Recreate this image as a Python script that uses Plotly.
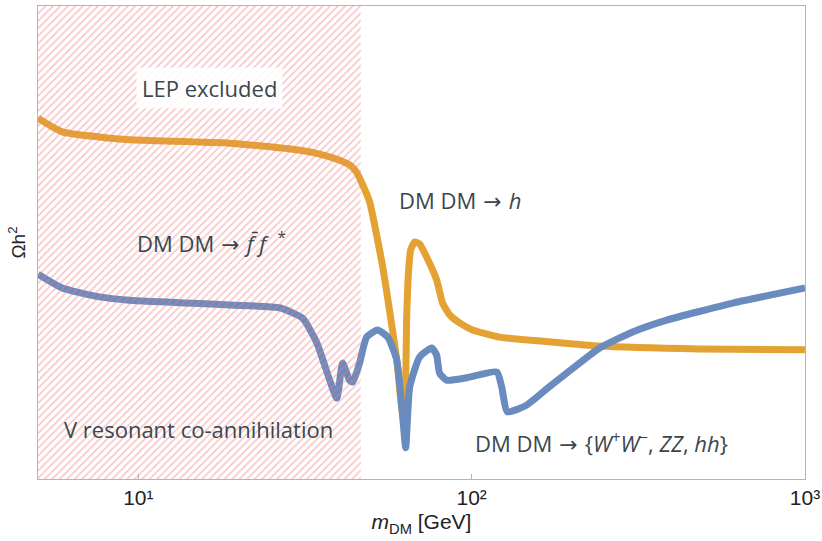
import math
import plotly.graph_objects as go

# ---- data (y in arbitrary units of the hidden axis) ----
m_orange = [5.0, 5.91, 7.64, 9.4, 18.8, 29.8, 35.0, 40.2, 43.0, 45.1, 47.1, 49.4, 54.1,
            59.6, 61.2, 62.5, 63.4, 63.8, 64.7, 65.6, 67.5, 69.8, 73.3, 78.5, 81.8,
            85.9, 92.0, 100.7, 121, 171, 242, 484, 1000]
omega_orange = [7.63, 7.34, 7.23, 7.17, 7.10, 6.96, 6.87, 6.74, 6.64, 6.49, 6.22, 5.86, 4.48,
                2.52, 1.70, 1.25, 2.09, 3.36, 4.42, 4.84, 5.01, 4.97, 4.69, 4.21, 3.72,
                3.47, 3.30, 3.15, 3.00, 2.90, 2.81, 2.75, 2.73]

m_blue = [5.0, 5.91, 7.64, 9.4, 18.8, 26.5, 31.1, 34.3, 37.5, 39.4, 41.0, 43.0, 44.0,
          46.1, 48.4, 52.2, 56.0, 59.6, 62.1, 63.4, 65.2, 69.8, 75.9, 78.5, 80.1, 84.1,
          96.6, 119, 123, 128, 146, 171, 193, 242, 304, 385, 608, 1000]
omega_blue = [4.33, 4.04, 3.85, 3.78, 3.68, 3.62, 3.40, 2.88, 2.09, 1.71, 2.45, 2.09, 2.05,
              2.45, 3.00, 3.15, 3.00, 2.52, 1.31, 0.66, 1.95, 2.58, 2.77, 2.62, 2.24, 2.09,
              2.14, 2.26, 1.95, 1.42, 1.56, 1.95, 2.24, 2.77, 3.11, 3.36, 3.72, 4.04]

lep_m = [5.0, 46.5]          # LEP excluded mass band
y_range = [0, 10]
x_range_m = [5.0, 1000.0]
x_tick_vals = [10, 100, 1000]
x_tick_text = ["10¹", "10²", "10³"]

ORANGE = "#E3A232"
BLUE = "#6A8BBE"
TEXT = "#3A474D"

fig = go.Figure()
fig.add_trace(go.Scatter(x=m_orange, y=omega_orange, mode="lines",
                         line=dict(color=ORANGE, width=7, shape="spline", smoothing=0.5),
                         hoverinfo="skip", showlegend=False))
fig.add_trace(go.Scatter(x=m_blue, y=omega_blue, mode="lines",
                         line=dict(color=BLUE, width=7, shape="spline", smoothing=0.5),
                         hoverinfo="skip", showlegend=False))
# hatched LEP region (on top of lines)
fig.add_trace(go.Scatter(x=[lep_m[0], lep_m[1], lep_m[1], lep_m[0]],
                         y=[y_range[0], y_range[0], y_range[1], y_range[1]],
                         mode="lines", fill="toself", line=dict(width=0),
                         fillcolor="rgba(0,0,0,0)",
                         fillpattern=dict(shape="/", fgcolor="rgba(242,120,126,0.97)",
                                          bgcolor="rgba(255,255,255,0)", size=5.3, solidity=0.28),
                         hoverinfo="skip", showlegend=False))

lab_font = dict(family="Open Sans", size=22, color=TEXT)
ARROW = "<span style='font-family:DejaVu Sans'> → </span>"
def ann(m, y, text, bg=None):
    d = dict(x=math.log10(m), y=y, xref="x", yref="y", text=text, showarrow=False,
             font=lab_font, xanchor="center", yanchor="middle")
    if bg:
        d.update(bgcolor=bg, borderpad=5)
    fig.add_annotation(**d)

ann(16.3, 8.27, "LEP excluded", bg="rgba(255,255,255,0.88)")
ann(16.6, 5.01, "DM DM" + ARROW + "<i>f̄ f</i>  <sup>*</sup>")
ann(15.2, 1.06, "V resonant co-annihilation")
ann(92, 5.90, "DM DM" + ARROW + "<i>h</i>")
ann(245, 0.78, "DM DM" + ARROW + "{<i>W</i><sup>+</sup><i>W</i><sup>−</sup>, <i>ZZ</i>, <i>hh</i>}")

fig.update_layout(
    width=822, height=541,
    margin=dict(l=38, r=17, t=6, b=62),
    paper_bgcolor="white", plot_bgcolor="white",
    xaxis=dict(type="log", range=[math.log10(x_range_m[0]), math.log10(x_range_m[1])],
               tickvals=x_tick_vals, ticktext=x_tick_text, automargin=False,
               showgrid=False, zeroline=False,
               showline=True, mirror=True, linecolor="#B5B5B5", linewidth=1,
               ticks="inside", ticklen=5, tickcolor="#B5B5B5",
               tickfont=dict(family="Liberation Sans", size=21, color="#222"),
               title=dict(text="<i>m</i><sub>DM</sub> [GeV]", standoff=6,
                          font=dict(family="Liberation Sans", size=21, color="#222"))),
    yaxis=dict(range=y_range, showticklabels=False, ticks="", showgrid=False, zeroline=False,
               automargin=False,
               showline=True, mirror=True, linecolor="#B5B5B5", linewidth=1,
               title=dict(text="Ωh<sup>2</sup>", standoff=6,
                          font=dict(family="Liberation Sans", size=19, color="#222"))),
)

# remove the default 8 px page margin so the figure fills the window exactly
fig.write_html("out.html", config={"displayModeBar": False},
               post_script="document.body.style.margin='0';document.body.style.overflow='hidden';")
